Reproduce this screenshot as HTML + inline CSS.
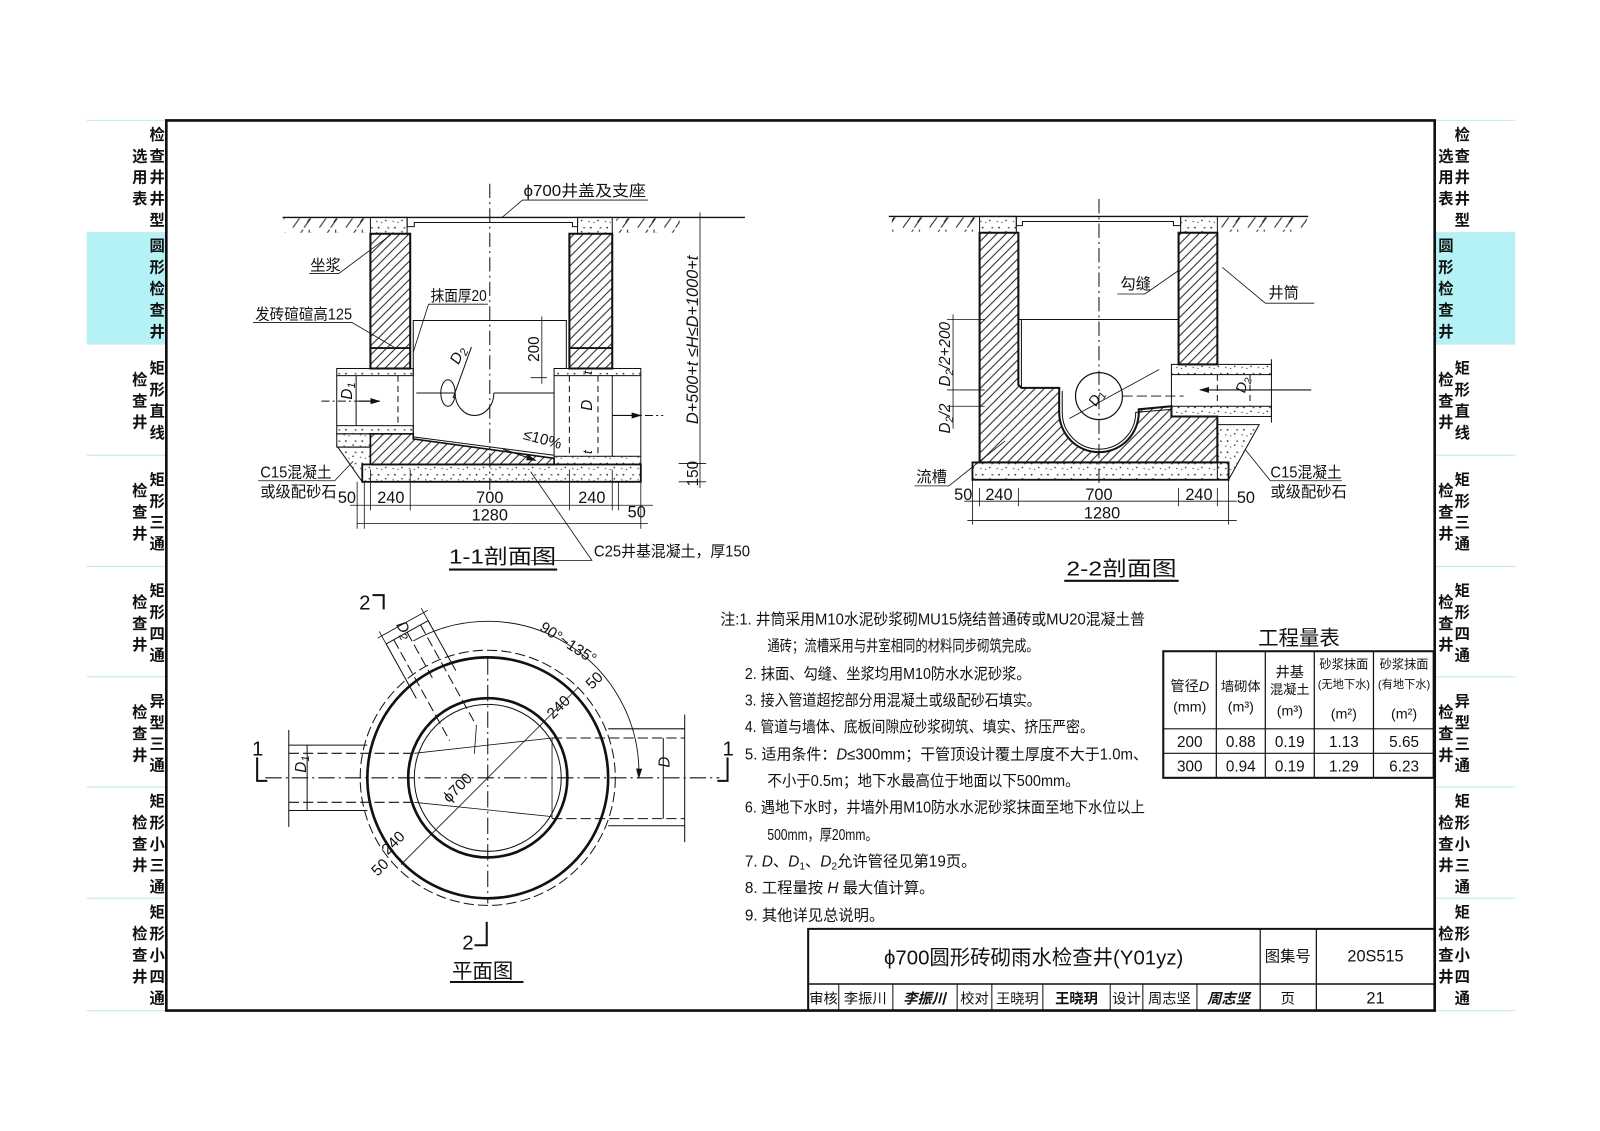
<!DOCTYPE html>
<html><head><meta charset="utf-8">
<style>
html,body{margin:0;padding:0;background:#fff;}
svg{display:block;}
text{font-family:"Liberation Sans","Noto Sans CJK SC",sans-serif;fill:#111;}
</style></head><body>
<svg width="1600" height="1131" viewBox="0 0 1568 1108" preserveAspectRatio="none" xmlns="http://www.w3.org/2000/svg">
<defs>
<pattern id="hatch" patternUnits="userSpaceOnUse" width="9" height="9">
<path d="M0 9 L9 0 M-2 2 L2 -2 M7 11 L11 7" stroke="#222" stroke-width="1"/>
</pattern>
<pattern id="conc" patternUnits="userSpaceOnUse" width="16" height="11">
<circle cx="3" cy="3" r="0.9" fill="#333"/><circle cx="10" cy="7" r="0.8" fill="#333"/>
<path d="M12 2 l2 1.5 l-2.5 0.5z" fill="#444"/><circle cx="6" cy="9" r="0.6" fill="#333"/>
<path d="M1 7 l1.5 1.5 l-2 0z" fill="#444"/>
</pattern>
<pattern id="earth" patternUnits="userSpaceOnUse" width="26" height="16">
<path d="M1 15 L11 1 M12 15 L20 4 M19 4 l-4 6 M17 1 v4" stroke="#222" stroke-width="1" fill="none"/>
</pattern>
<marker id="arr" markerWidth="10" markerHeight="6" refX="9" refY="3" orient="auto" markerUnits="userSpaceOnUse">
<path d="M0 0 L10 3 L0 6z" fill="#111"/></marker>
</defs>

<rect x="85" y="228" width="78" height="109" fill="#b4f2f5"/>
<rect x="1406" y="228" width="79" height="109" fill="#b4f2f5"/>
<g stroke="#c6ecef" stroke-width="1.2">
<path d="M85 118H163M85 228H163M85 337H163M85 446H163M85 555H163M85 663H163M85 771H163M85 880H163M85 990H163"/>
<path d="M1406 118H1485M1406 228H1485M1406 337H1485M1406 446H1485M1406 555H1485M1406 663H1485M1406 771H1485M1406 880H1485M1406 990H1485"/>
</g>
<g font-size="15" text-anchor="middle" font-weight="bold">
<text x="154" y="137">检</text><text x="154" y="158">查</text><text x="154" y="179">井</text><text x="154" y="200">井</text><text x="154" y="221">型</text>
<text x="137" y="158">选</text><text x="137" y="179">用</text><text x="137" y="200">表</text>
<text x="154" y="246">圆</text><text x="154" y="267">形</text><text x="154" y="288">检</text><text x="154" y="309">查</text><text x="154" y="330">井</text>
<text x="154" y="366">矩</text><text x="154" y="387">形</text><text x="154" y="408">直</text><text x="154" y="429">线</text>
<text x="137" y="377">检</text><text x="137" y="398">查</text><text x="137" y="419">井</text>
<text x="154" y="475">矩</text><text x="154" y="496">形</text><text x="154" y="517">三</text><text x="154" y="538">通</text>
<text x="137" y="486">检</text><text x="137" y="507">查</text><text x="137" y="528">井</text>
<text x="154" y="584">矩</text><text x="154" y="605">形</text><text x="154" y="626">四</text><text x="154" y="647">通</text>
<text x="137" y="595">检</text><text x="137" y="616">查</text><text x="137" y="637">井</text>
<text x="154" y="692">异</text><text x="154" y="713">型</text><text x="154" y="734">三</text><text x="154" y="755">通</text>
<text x="137" y="703">检</text><text x="137" y="724">查</text><text x="137" y="745">井</text>
<text x="154" y="790">矩</text><text x="154" y="811">形</text><text x="154" y="832">小</text><text x="154" y="853">三</text><text x="154" y="874">通</text>
<text x="137" y="811">检</text><text x="137" y="832">查</text><text x="137" y="853">井</text>
<text x="154" y="899">矩</text><text x="154" y="920">形</text><text x="154" y="941">小</text><text x="154" y="962">四</text><text x="154" y="983">通</text>
<text x="137" y="920">检</text><text x="137" y="941">查</text><text x="137" y="962">井</text>
<text x="1433" y="137">检</text><text x="1433" y="158">查</text><text x="1433" y="179">井</text><text x="1433" y="200">井</text><text x="1433" y="221">型</text>
<text x="1417" y="158">选</text><text x="1417" y="179">用</text><text x="1417" y="200">表</text>
<text x="1417" y="246">圆</text><text x="1417" y="267">形</text><text x="1417" y="288">检</text><text x="1417" y="309">查</text><text x="1417" y="330">井</text>
<text x="1433" y="366">矩</text><text x="1433" y="387">形</text><text x="1433" y="408">直</text><text x="1433" y="429">线</text>
<text x="1417" y="377">检</text><text x="1417" y="398">查</text><text x="1417" y="419">井</text>
<text x="1433" y="475">矩</text><text x="1433" y="496">形</text><text x="1433" y="517">三</text><text x="1433" y="538">通</text>
<text x="1417" y="486">检</text><text x="1417" y="507">查</text><text x="1417" y="528">井</text>
<text x="1433" y="584">矩</text><text x="1433" y="605">形</text><text x="1433" y="626">四</text><text x="1433" y="647">通</text>
<text x="1417" y="595">检</text><text x="1417" y="616">查</text><text x="1417" y="637">井</text>
<text x="1433" y="692">异</text><text x="1433" y="713">型</text><text x="1433" y="734">三</text><text x="1433" y="755">通</text>
<text x="1417" y="703">检</text><text x="1417" y="724">查</text><text x="1417" y="745">井</text>
<text x="1433" y="790">矩</text><text x="1433" y="811">形</text><text x="1433" y="832">小</text><text x="1433" y="853">三</text><text x="1433" y="874">通</text>
<text x="1417" y="811">检</text><text x="1417" y="832">查</text><text x="1417" y="853">井</text>
<text x="1433" y="899">矩</text><text x="1433" y="920">形</text><text x="1433" y="941">小</text><text x="1433" y="962">四</text><text x="1433" y="983">通</text>
<text x="1417" y="920">检</text><text x="1417" y="941">查</text><text x="1417" y="962">井</text>
</g>

<rect x="163" y="118" width="1243" height="872" fill="none" stroke="#111" stroke-width="2.6"/>

<!-- 1-1 -->
<g stroke="#111" fill="none">
<path d="M277 213H730" stroke-width="1.3"/>
<rect x="278" y="214" width="82" height="14" fill="url(#earth)" stroke="none"/>
<rect x="604" y="214" width="62" height="14" fill="url(#earth)" stroke="none"/>
<rect x="363" y="213" width="36" height="16" fill="url(#conc)" stroke-width="1"/>
<rect x="566" y="213" width="34" height="16" fill="url(#conc)" stroke-width="1"/>
<path d="M399 213v9h7v-4h155v4h5v-9" stroke-width="1"/>
<rect x="363" y="229" width="39" height="132" fill="url(#hatch)" stroke-width="2"/>
<rect x="558" y="229" width="42" height="132" fill="url(#hatch)" stroke-width="2"/>
<path d="M363 341H402M558 341H600" stroke-width="1.8"/>
<path d="M405 425V314H555V361" stroke-width="1"/>
<rect x="330" y="361" width="75" height="7" fill="url(#conc)" stroke-width="1"/>
<rect x="330" y="417" width="75" height="8" fill="url(#conc)" stroke-width="1"/>
<path d="M330 368V417M349 368V417" stroke-width="1"/>
<path d="M390 368V417" stroke-width="1" stroke-dasharray="6 4"/>
<path d="M315 393H362" stroke-width="1" stroke-dasharray="8 3 2 3"/>
<path d="M352 393H372" stroke-width="1.2" marker-end="url(#arr)"/>
<rect x="330" y="425" width="33" height="13" fill="url(#conc)" stroke-width="1"/>
<path d="M331 438H363V455H355V472Z" fill="url(#conc)" stroke-width="1"/>
<path d="M363 425H405V430L543 449V455H363Z" fill="url(#hatch)" stroke-width="1.6"/>
<path d="M405 428L543 446" stroke-width="1"/>
<rect x="543" y="361" width="85" height="7" fill="url(#conc)" stroke-width="1"/>
<rect x="543" y="447" width="85" height="8" fill="url(#conc)" stroke-width="1"/>
<path d="M543 368V447M628 368V447M600 368V447" stroke-width="1"/>
<path d="M558 368V447M586 368V447" stroke-width="1" stroke-dasharray="6 4"/>
<path d="M600 407H650" stroke-width="1" stroke-dasharray="8 3 2 3"/>
<path d="M600 407H628" stroke-width="1.2" marker-end="url(#arr)"/>
<ellipse cx="439" cy="385" rx="7" ry="13" stroke-width="1"/>
<path d="M408 385H446M484 385H543" stroke-width="1"/>
<path d="M446 385A19 22 0 0 0 484 385" stroke-width="1"/>
<path d="M444 390L462 340" stroke-width="1"/>
<rect x="355" y="455" width="273" height="17" fill="url(#conc)" stroke-width="1.8"/>
<path d="M480 180V480" stroke-width="1" stroke-dasharray="14 4 2 4"/>
<path d="M350 472V518M357 472V518M363 460V500M402 460V500M558 460V500M600 460V500M606 472V500M628 472V518" stroke-width="0.8"/>
<path d="M343 495H640M350 513H635" stroke-width="0.8"/>
<path d="M686 208V478M665 454H692M665 472H692M531 310V376M520 314H536M520 370H536" stroke-width="0.8"/>
<path d="M493 440L525 451" stroke-width="1" marker-end="url(#arr)"/>
<path d="M520 549L580 549L520 462" stroke-width="0.8"/>
<path d="M512 196H635M512 196L492 213" stroke-width="0.8"/>
<path d="M303 268H332L383 230" stroke-width="0.8"/>
<path d="M420 298H478M420 298L405 345" stroke-width="0.8"/>
<path d="M248 316H345L386 340" stroke-width="0.8"/>
<path d="M253 471H328L346 452" stroke-width="0.8"/>
</g>
<g font-size="15">
<text x="513" y="192" textLength="120" lengthAdjust="spacingAndGlyphs">ϕ700井盖及支座</text>
<text x="304" y="265">坐浆</text>
<text x="422" y="295" textLength="55" lengthAdjust="spacingAndGlyphs">抹面厚20</text>
<text x="250" y="313" textLength="95" lengthAdjust="spacingAndGlyphs">发砖碹碹高125</text>
<text x="255" y="468" textLength="70" lengthAdjust="spacingAndGlyphs">C15混凝土</text>
<text x="255" y="487">或级配砂石</text>
<text x="582" y="545" textLength="153" lengthAdjust="spacingAndGlyphs">C25井基混凝土，厚150</text>
<text x="340" y="493" text-anchor="middle" font-size="16">50</text>
<text x="383" y="493" text-anchor="middle" font-size="16">240</text>
<text x="480" y="493" text-anchor="middle" font-size="16">700</text>
<text x="580" y="493" text-anchor="middle" font-size="16">240</text>
<text x="624" y="507" text-anchor="middle" font-size="16">50</text>
<text x="480" y="510" text-anchor="middle" font-size="16">1280</text>
<text transform="translate(684,333) rotate(-90)" text-anchor="middle" font-size="16" font-style="italic">D+500+t ≤H≤D+1000+t</text>
<text transform="translate(684,464) rotate(-90)" text-anchor="middle" font-size="15">150</text>
<text transform="translate(528,342) rotate(-90)" text-anchor="middle" font-size="15">200</text>
<text transform="translate(345,383) rotate(-90)" text-anchor="middle" font-style="italic">D<tspan font-size="11" dy="3">1</tspan></text>
<text transform="translate(580,397) rotate(-90)" text-anchor="middle" font-style="italic">D</text>
<text transform="translate(580,365) rotate(-90)" text-anchor="middle" font-style="italic" font-size="13">t</text>
<text transform="translate(580,443) rotate(-90)" text-anchor="middle" font-style="italic" font-size="13">t</text>
<text transform="translate(453,350) rotate(-65)" text-anchor="middle" font-style="italic">D<tspan font-size="11" dy="3">2</tspan></text>
<text transform="translate(512,430) rotate(15)" font-size="15">≤10%</text>
<text x="440" y="552" font-size="20" textLength="105" lengthAdjust="spacingAndGlyphs">1-1剖面图</text>
</g>
<path d="M440 558H546" stroke="#111" stroke-width="2"/>

<!-- 2-2 -->
<g stroke="#111" fill="none">
<path d="M871 212H1282" stroke-width="1.3"/>
<rect x="874" y="213" width="82" height="14" fill="url(#earth)" stroke="none"/>
<rect x="1197" y="213" width="84" height="14" fill="url(#earth)" stroke="none"/>
<rect x="960" y="212" width="36" height="16" fill="url(#conc)" stroke-width="1"/>
<rect x="1157" y="212" width="36" height="16" fill="url(#conc)" stroke-width="1"/>
<path d="M996 212v9h6v-4h148v4h7v-9" stroke-width="1"/>
<path d="M960 228H998V377L1001 380H1038V404A39 39 0 0 0 1116 404V401L1148 398V408H1155H1193V453H960Z" fill="url(#hatch)" stroke-width="2"/>
<path d="M1001 313V380M1041 383V404A36 36 0 0 0 1113 404L1148 401" stroke-width="1"/>
<rect x="1155" y="228" width="38" height="129" fill="url(#hatch)" stroke-width="2"/>
<path d="M998 313H1155" stroke-width="1"/>
<rect x="1148" y="357" width="98" height="10" fill="url(#conc)" stroke-width="1"/>
<rect x="1148" y="398" width="98" height="10" fill="url(#conc)" stroke-width="1"/>
<path d="M1148 367V398M1246 352V414" stroke-width="1"/>
<path d="M1193 367V398M1225 367V398" stroke-width="1" stroke-dasharray="6 4"/>
<path d="M1285 382H1176" stroke-width="1.1" marker-end="url(#arr)"/>
<path d="M1193 416H1234L1204 470H1193Z" fill="url(#conc)" stroke-width="1"/>
<circle cx="1077" cy="388" r="23" stroke-width="1.2"/>
<path d="M1048 410L1136 362" stroke-width="0.8"/>
<path d="M1100 388H1160" stroke-width="0.8" stroke-dasharray="10 4"/>
<rect x="953" y="453" width="251" height="17" fill="url(#conc)" stroke-width="1.8"/>
<path d="M1077 195V475" stroke-width="1" stroke-dasharray="14 4 2 4"/>
<path d="M953 470V514M960 478V496M998 478V496M1155 478V496M1193 478V496M1204 470V514" stroke-width="0.8"/>
<path d="M945 491H1212M948 510H1212" stroke-width="0.8"/>
<path d="M934 308V420M928 313H965M928 382H965M928 398H965" stroke-width="0.8"/>
<path d="M1095 288H1122L1155 265" stroke-width="0.8"/>
<path d="M1240 297H1288M1240 297L1198 262" stroke-width="0.8"/>
<path d="M896 476H930L985 432" stroke-width="0.8"/>
<path d="M1245 471H1315M1245 471L1220 440" stroke-width="0.8"/>
</g>
<g font-size="15">
<text x="1098" y="283">勾缝</text>
<text x="1243" y="292">井筒</text>
<text x="898" y="472">流槽</text>
<text x="1245" y="468" textLength="70" lengthAdjust="spacingAndGlyphs">C15混凝土</text>
<text x="1245" y="487">或级配砂石</text>
<text x="944" y="490" text-anchor="middle" font-size="16">50</text>
<text x="979" y="490" text-anchor="middle" font-size="16">240</text>
<text x="1077" y="490" text-anchor="middle" font-size="16">700</text>
<text x="1175" y="490" text-anchor="middle" font-size="16">240</text>
<text x="1221" y="493" text-anchor="middle" font-size="16">50</text>
<text x="1080" y="508" text-anchor="middle" font-size="16">1280</text>
<text transform="translate(931,347) rotate(-90)" text-anchor="middle" font-style="italic" font-size="15">D<tspan font-size="11" dy="3">2</tspan><tspan dy="-3">/2+200</tspan></text>
<text transform="translate(931,410) rotate(-90)" text-anchor="middle" font-style="italic" font-size="15">D<tspan font-size="11" dy="3">2</tspan><tspan dy="-3">/2</tspan></text>
<text transform="translate(1078,392) rotate(-60)" text-anchor="middle" font-style="italic" font-size="14">D<tspan font-size="10" dy="3">1</tspan></text>
<text transform="translate(1222,378) rotate(-75)" text-anchor="middle" font-style="italic" font-size="14">D<tspan font-size="10" dy="3">2</tspan></text>
<text x="1045" y="564" font-size="20" textLength="108" lengthAdjust="spacingAndGlyphs">2-2剖面图</text>
</g>
<path d="M1043 569H1155" stroke="#111" stroke-width="2"/>

<!-- plan -->
<g stroke="#111" fill="none">
<circle cx="478" cy="762" r="125" stroke-width="1" stroke-dasharray="10 4"/>
<circle cx="478" cy="762" r="118" stroke-width="2.6"/>
<circle cx="478" cy="762" r="78" stroke-width="2.6"/>
<circle cx="478" cy="762" r="72" stroke-width="1"/>
<path d="M283 730H360M283 794H360M283 715V810M301 730V794" stroke-width="1"/>
<path d="M283 738H406M283 786H406" stroke-width="1" stroke-dasharray="10 4"/>
<path d="M406 738L478 730M406 786L541 800" stroke-width="0.8"/>
<path d="M596 714H671M596 809H671M671 700V825M650 723V802" stroke-width="1"/>
<path d="M541 723H671M541 802H671" stroke-width="1" stroke-dasharray="10 4"/>
<path d="M541 723V802M478 730L541 723" stroke-width="0.8"/>
<g transform="rotate(-29 478 762)">
<path d="M454.5 599V660M501.5 599V655M454 599H502" stroke-width="1"/>
<path d="M463 599V712M493 599V712M478 599V650" stroke-width="1" stroke-dasharray="10 4"/>
<path d="M450 590L506 590M454.5 585V604M501.5 585V604" stroke-width="0.8"/>
<path d="M493 712L478 735" stroke-width="0.8"/>
</g>
<path d="M260 762H705" stroke-width="1" stroke-dasharray="16 4 2 4"/>
<path d="M478 645V885" stroke-width="1" stroke-dasharray="16 4 2 4"/>
<path d="M393 847L566 674" stroke-width="0.8"/>
<path d="M405 628A148 148 0 0 1 626 762" stroke-width="0.9" marker-end="url(#arr)"/>
<path d="M252 742V765H262" stroke-width="2"/>
<path d="M713 742V765H703" stroke-width="2"/>
<path d="M365 583H376V597" stroke-width="2"/>
<path d="M477 903V926H465" stroke-width="2"/>
<path d="M441 962H513" stroke-width="2"/>
</g>
<g font-size="15">
<text x="247" y="740" font-size="20">1</text>
<text x="708" y="740" font-size="20">1</text>
<text x="352" y="597" font-size="20">2</text>
<text x="453" y="930" font-size="20">2</text>
<text transform="translate(300,757) rotate(-90)" font-style="italic">D<tspan font-size="11" dy="3">1</tspan></text>
<text transform="translate(656,752) rotate(-90)" font-style="italic">D</text>
<text transform="translate(388,612) rotate(61)" font-style="italic">D<tspan font-size="11" dy="3">2</tspan></text>
<text transform="translate(440,787) rotate(-45)" font-size="15">ϕ700</text>
<text transform="translate(542,705) rotate(-45)" font-size="15">240</text>
<text transform="translate(580,676) rotate(-45)" font-size="15">50</text>
<text transform="translate(380,838) rotate(-45)" font-size="15">240</text>
<text transform="translate(370,859) rotate(-45)" font-size="15">50</text>
<text transform="translate(528,617) rotate(33)" font-size="15">90°~135°</text>
<text x="443" y="958" font-size="20">平面图</text>
</g>

<g font-size="15">
<text x="706" y="612" textLength="416" lengthAdjust="spacingAndGlyphs">注:1. 井筒采用M10水泥砂浆砌MU15烧结普通砖或MU20混凝土普</text>
<text x="752" y="638" textLength="266" lengthAdjust="spacingAndGlyphs">通砖；流槽采用与井室相同的材料同步砌筑完成。</text>
<text x="730" y="665" textLength="280" lengthAdjust="spacingAndGlyphs">2. 抹面、勾缝、坐浆均用M10防水水泥砂浆。</text>
<text x="730" y="691" textLength="290" lengthAdjust="spacingAndGlyphs">3. 接入管道超挖部分用混凝土或级配砂石填实。</text>
<text x="730" y="717" textLength="342" lengthAdjust="spacingAndGlyphs">4. 管道与墙体、底板间隙应砂浆砌筑、填实、挤压严密。</text>
<text x="730" y="744" textLength="395" lengthAdjust="spacingAndGlyphs">5. 适用条件：<tspan font-style="italic">D</tspan>≤300mm；干管顶设计覆土厚度不大于1.0m、</text>
<text x="752" y="770" textLength="306" lengthAdjust="spacingAndGlyphs">不小于0.5m；地下水最高位于地面以下500mm。</text>
<text x="730" y="796" textLength="392" lengthAdjust="spacingAndGlyphs">6. 遇地下水时，井墙外用M10防水水泥砂浆抹面至地下水位以上</text>
<text x="752" y="823" textLength="108" lengthAdjust="spacingAndGlyphs">500mm，厚20mm。</text>
<text x="730" y="849">7. <tspan font-style="italic">D</tspan>、<tspan font-style="italic">D</tspan><tspan font-size="10" dy="3">1</tspan><tspan dy="-3">、</tspan><tspan font-style="italic">D</tspan><tspan font-size="10" dy="3">2</tspan><tspan dy="-3">允许管径见第19页。</tspan></text>
<text x="730" y="875">8. 工程量按 <tspan font-style="italic">H</tspan> 最大值计算。</text>
<text x="730" y="902">9. 其他详见总说明。</text>
</g>

<text x="1273" y="632" font-size="20" text-anchor="middle">工程量表</text>
<g stroke="#111" fill="none">
<rect x="1140" y="638" width="265" height="124" stroke-width="2"/>
<path d="M1140 714H1405M1140 738H1405M1192 638V762M1240 638V762M1288 638V762M1346 638V762" stroke-width="1.2"/>
</g>
<g font-size="14" text-anchor="middle">
<text x="1166" y="677">管径<tspan font-style="italic">D</tspan></text>
<text x="1166" y="697">(mm)</text>
<text x="1216" y="677" font-size="13">墙砌体</text>
<text x="1216" y="697">(m³)</text>
<text x="1264" y="663">井基</text>
<text x="1264" y="680" font-size="13">混凝土</text>
<text x="1264" y="701">(m³)</text>
<text x="1317" y="655" font-size="12">砂浆抹面</text>
<text x="1317" y="674" font-size="11">(无地下水)</text>
<text x="1317" y="704">(m²)</text>
<text x="1376" y="655" font-size="12">砂浆抹面</text>
<text x="1376" y="674" font-size="11">(有地下水)</text>
<text x="1376" y="704">(m²)</text>
<g font-size="15">
<text x="1166" y="732">200</text><text x="1216" y="732">0.88</text><text x="1264" y="732">0.19</text><text x="1317" y="732">1.13</text><text x="1376" y="732">5.65</text>
<text x="1166" y="756">300</text><text x="1216" y="756">0.94</text><text x="1264" y="756">0.19</text><text x="1317" y="756">1.29</text><text x="1376" y="756">6.23</text>
</g>
</g>

<g stroke="#111" fill="none">
<path d="M792 990V910H1406" stroke-width="2"/>
<path d="M792 964H1406" stroke-width="1.5"/>
<path d="M1235 910V990M1290 910V990" stroke-width="1.2"/>
<path d="M822 964V990M875 964V990M938 964V990M972 964V990M1022 964V990M1088 964V990M1120 964V990M1173 964V990" stroke-width="1"/>
</g>
<text x="1013" y="945" font-size="20" text-anchor="middle">ϕ700圆形砖砌雨水检查井(Y01yz)</text>
<text x="1262" y="942" font-size="15" text-anchor="middle">图集号</text>
<text x="1348" y="942" font-size="16" text-anchor="middle" font-family="Liberation Serif">20S515</text>
<g font-size="14" text-anchor="middle">
<text x="807" y="983">审核</text><text x="848" y="983">李振川</text>
<text x="906" y="983" font-style="italic" font-weight="bold">李振川</text>
<text x="955" y="983">校对</text><text x="997" y="983">王晓玥</text>
<text x="1055" y="983" font-weight="bold">王晓玥</text>
<text x="1104" y="983">设计</text><text x="1146" y="983">周志坚</text>
<text x="1204" y="983" font-style="italic" font-weight="bold">周志坚</text>
<text x="1262" y="983">页</text>
<text x="1348" y="983" font-size="16" font-family="Liberation Serif">21</text>
</g>
</svg>
</body></html>
